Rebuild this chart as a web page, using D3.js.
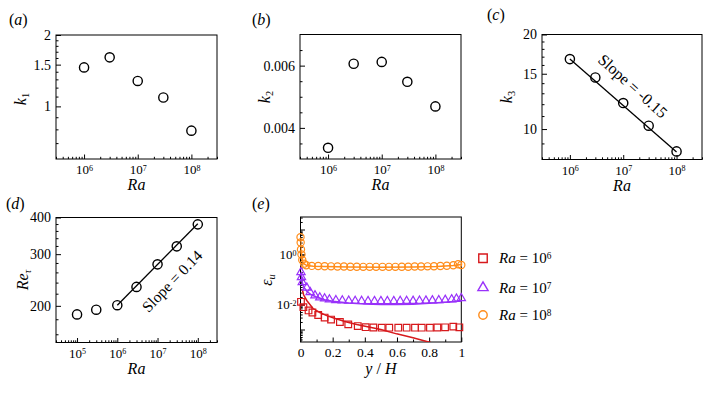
<!DOCTYPE html>
<html lang="en">
<head>
<meta charset="UTF-8">
<title>Ra scaling panels</title>
<script src="https://d3js.org/d3.v7.min.js"></script>
<style>
  body { margin: 0; background: #fff; }
  svg { display: block; }
  svg text { font-family: "Liberation Serif", "Times New Roman", "DejaVu Serif", serif; }
</style>
</head>
<body>
<svg width="713" height="393"></svg>
<script>
// ---- data ----
const raK = [1e6, 3e6, 1e7, 3e7, 1e8]
const k1 = [1.46, 1.61, 1.28, 1.09, 0.79]
const k2 = [0.00336, 0.00606, 0.00612, 0.00548, 0.00469]
const k3 = [16.7, 14.6, 12.1, 10.25, 8.49]
const k3FitRa = [1e6, 1e8]
const k3Fit = [16.7, 8.45]

const raRe = [1e5, 3e5, 1e6, 3e6, 1e7, 3e7, 1e8]
const reTau = [187, 194, 201, 232, 277, 319, 379]
const reFitRa = [1e6, 1e8]
const reFit = [201, 381]

// panel (e): y/H and eps_u
const sqYH = [0.003, 0.018, 0.05, 0.074, 0.11, 0.15, 0.19, 0.245, 0.297, 0.356, 0.405, 0.453, 0.505, 0.552, 0.608, 0.66, 0.712, 0.754, 0.805, 0.851, 0.899, 0.95, 0.988]
const sqEps = [0.0128, 0.0078, 0.0058, 0.0048, 0.0038, 0.003, 0.0025, 0.002, 0.0016, 0.00137, 0.00124, 0.0012, 0.00118, 0.00118, 0.00118, 0.00118, 0.00118, 0.00118, 0.00118, 0.0012, 0.00122, 0.0013, 0.00122]
const triYH = [0.003, 0.006, 0.011, 0.039, 0.06, 0.09, 0.12, 0.15, 0.18, 0.22, 0.26, 0.3, 0.34, 0.38, 0.42, 0.46, 0.5, 0.54, 0.58, 0.62, 0.66, 0.7, 0.74, 0.78, 0.82, 0.86, 0.9, 0.94, 0.97, 1.0]
const triEps = [0.196, 0.123, 0.078, 0.047, 0.031, 0.023, 0.019, 0.0173, 0.0158, 0.0148, 0.0143, 0.014, 0.0138, 0.0137, 0.0136, 0.0136, 0.0136, 0.0136, 0.0136, 0.0137, 0.0138, 0.0139, 0.014, 0.0142, 0.0145, 0.0148, 0.0152, 0.016, 0.0168, 0.0178]
const cirYH = [0, 0.001, 0.003, 0.006, 0.011, 0.022, 0.036, 0.07, 0.11, 0.15, 0.19, 0.23, 0.27, 0.31, 0.35, 0.39, 0.43, 0.47, 0.51, 0.55, 0.59, 0.63, 0.67, 0.71, 0.75, 0.79, 0.83, 0.87, 0.91, 0.95, 0.98, 1.0]
const cirEps = [4.9, 3.0, 1.6, 1.0, 0.6, 0.43, 0.37, 0.35, 0.345, 0.34, 0.335, 0.33, 0.33, 0.325, 0.325, 0.32, 0.32, 0.32, 0.32, 0.32, 0.32, 0.325, 0.325, 0.33, 0.33, 0.335, 0.34, 0.345, 0.355, 0.37, 0.41, 0.38]

const redLineYH = [0.011, 0.02, 0.039, 0.078, 0.12, 0.163, 0.22, 0.287, 0.35, 0.432, 0.5, 0.598, 0.7, 0.785, 0.81]
const redLineEps = [0.04, 0.024, 0.0145, 0.0069, 0.0048, 0.0036, 0.0027, 0.002, 0.0016, 0.00124, 0.001, 0.00067, 0.00047, 0.00033, 0.0003]
const purLineYH = [0.003, 0.01, 0.02, 0.04, 0.07, 0.1, 0.15, 0.2, 0.3, 0.4, 0.5, 0.6, 0.7, 0.8, 0.9, 1.0]
const purLineEps = [0.19, 0.08, 0.05, 0.033, 0.024, 0.02, 0.0155, 0.0135, 0.0115, 0.0104, 0.0099, 0.0099, 0.0103, 0.0111, 0.0122, 0.0138]
const orLineYH = [0, 0.003, 0.006, 0.011, 0.02, 0.04, 0.08, 0.15, 0.3, 0.5, 0.7, 0.85, 0.95, 1.0]
const orLineEps = [4.9, 1.6, 1.0, 0.6, 0.43, 0.36, 0.34, 0.33, 0.315, 0.31, 0.315, 0.33, 0.36, 0.4]

const seriesNames = ['6', '7', '8']   // Ra = 10^n

// tick labels
const raExpABC = [6, 7, 8]
const raExpD = [5, 6, 7, 8]
const k1Ticks = [1, 1.5, 2]
const k2Ticks = [0.004, 0.006]
const k3Ticks = [10, 15, 20]
const reTicks = [200, 300, 400]
const epsExp = [0, -2]
const yhTicks = [0, 0.2, 0.4, 0.6, 0.8, 1]

// ---- drawing ----
const svg = d3.select('svg')
const red = '#d7191c', purple = '#9932fa', orange = '#ff8c1a'

const boxes = {
  a: {x0: 56, x1: 217, y0: 35, y1: 159},
  b: {x0: 300, x1: 461, y0: 34.5, y1: 159},
  c: {x0: 542, x1: 702, y0: 34.5, y1: 159.5},
  d: {x0: 56, x1: 217, y0: 217.5, y1: 342.5},
  e: {x0: 300.5, x1: 461.3, y0: 217, y1: 342}
}

function axisGroup(orient, scale, values, len, pad, fmt, box) {
  const ax = (orient === 'bottom' ? d3.axisBottom(scale) : d3.axisLeft(scale))
    .tickValues(values).tickSizeInner(-len).tickSizeOuter(0).tickPadding(pad)
    .tickFormat(fmt || (() => ''))
  const g = svg.append('g')
    .attr('transform', orient === 'bottom' ? `translate(0,${box.y1})` : `translate(${box.x0},0)`)
    .call(ax)
  g.attr('font-size', 14)
  g.select('.domain').remove()
  g.selectAll('line').attr('stroke', '#000').attr('stroke-width', 1)
  g.selectAll('text').attr('fill', '#000')
  return g
}

function powLabels(g, fs) {
  g.selectAll('text').each(function (d) {
    const e = Math.round(Math.log10(d))
    const t = d3.select(this).text('').attr('font-size', fs)
    t.append('tspan').text('10')
    t.append('tspan').attr('dy', '-0.45em').attr('font-size', '0.62em').text(e)
  })
}

function logMinor(domain) {
  const out = []
  const lo = Math.floor(Math.log10(domain[0])), hi = Math.ceil(Math.log10(domain[1]))
  for (let p = lo; p <= hi; p++) {
    for (let m = 2; m <= 9; m++) {
      const v = m * Math.pow(10, p)
      if (v >= domain[0] && v <= domain[1]) out.push(v)
    }
  }
  return out
}

function frame(box) {
  svg.append('rect').attr('x', box.x0).attr('y', box.y0)
    .attr('width', box.x1 - box.x0).attr('height', box.y1 - box.y0)
    .attr('fill', 'none').attr('stroke', '#000').attr('stroke-width', 1)
}

function raAxis(box, x, exps, dom) {
  axisGroup('bottom', x, logMinor(dom), 2.2, 0, null, box)
  const g = axisGroup('bottom', x, exps.map(e => Math.pow(10, e)), 4.5, 6, d => d, box)
  powLabels(g, 13)
  svg.append('text').attr('x', (box.x0 + box.x1) / 2).attr('y', box.y1 + 31)
    .attr('text-anchor', 'middle').attr('font-style', 'italic')
    .attr('font-size', 16).text('Ra')
}

function yTitle(x, y, main, sub, subItalic) {
  const t = svg.append('text').attr('transform', `translate(${x},${y}) rotate(-90)`)
    .attr('text-anchor', 'middle').attr('font-size', 16)
  t.append('tspan').attr('font-style', 'italic').text(main)
  t.append('tspan').attr('dy', '0.3em').attr('font-size', '0.65em')
    .attr('font-style', subItalic ? 'italic' : 'normal').text(sub)
}

function panelLabel(x, y, letter) {
  const t = svg.append('text').attr('x', x).attr('y', y).attr('font-size', 16)
  t.append('tspan').text('(')
  t.append('tspan').attr('font-style', 'italic').text(letter)
  t.append('tspan').text(')')
}

function openCircles(x, y, xs, ys) {
  svg.append('g').selectAll('circle').data(xs).join('circle')
    .attr('cx', d => x(d)).attr('cy', (d, i) => y(ys[i])).attr('r', 4.6)
    .attr('fill', 'none').attr('stroke', '#000').attr('stroke-width', 1.4)
}

function fitLine(x, y, xs, ys) {
  svg.append('path').datum(xs)
    .attr('d', d3.line().x(d => x(d)).y((d, i) => y(ys[i])))
    .attr('fill', 'none').attr('stroke', '#000').attr('stroke-width', 1.3)
}

const raDomABC = [3e5, 3e8]

// (a)
{
  const b = boxes.a
  const x = d3.scaleLog().domain(raDomABC).range([b.x0, b.x1])
  const y = d3.scaleLog().domain([0.6, 2]).range([b.y1, b.y0])
  frame(b)
  raAxis(b, x, raExpABC, raDomABC)
  axisGroup('left', y, d3.range(0.7, 2, 0.1).filter(v => Math.abs(v - 1) > 1e-6 && Math.abs(v - 1.5) > 1e-6), 2.5, 0, null, b)
  axisGroup('left', y, k1Ticks, 5, 5, d => d, b)
  openCircles(x, y, raK, k1)
  yTitle(26, 99, 'k', '1')
  panelLabel(9, 25, 'a')
}

// (b)
{
  const b = boxes.b
  const x = d3.scaleLog().domain(raDomABC).range([b.x0, b.x1])
  const y = d3.scaleLinear().domain([0.003, 0.007]).range([b.y1, b.y0])
  frame(b)
  raAxis(b, x, raExpABC, raDomABC)
  axisGroup('left', y, [0.0035, 0.0045, 0.005, 0.0055, 0.0065], 2.5, 0, null, b)
  axisGroup('left', y, k2Ticks, 5, 5, d3.format('.3f'), b)
  openCircles(x, y, raK, k2)
  yTitle(270, 97, 'k', '2')
  panelLabel(252, 25, 'b')
}

// (c)
{
  const b = boxes.c
  const x = d3.scaleLog().domain(raDomABC).range([b.x0, b.x1])
  const y = d3.scaleLog().domain([8, 20]).range([b.y1, b.y0])
  frame(b)
  raAxis(b, x, raExpABC, raDomABC)
  axisGroup('left', y, d3.range(9, 20).filter(v => v !== 10 && v !== 15), 2.5, 0, null, b)
  axisGroup('left', y, k3Ticks, 5, 5, d => d, b)
  fitLine(x, y, k3FitRa, k3Fit)
  openCircles(x, y, raK, k3)
  yTitle(512, 97, 'k', '3')
  panelLabel(487, 20, 'c')
  svg.append('text').attr('transform', 'translate(633,86) rotate(42)')
    .attr('text-anchor', 'middle').attr('dy', '0.35em')
    .attr('font-size', 16).text('Slope = -0.15')
}

// (d)
{
  const b = boxes.d
  const dom = [3e4, 3e8]
  const x = d3.scaleLog().domain(dom).range([b.x0, b.x1])
  const y = d3.scaleLog().domain([150, 400]).range([b.y1, b.y0])
  frame(b)
  raAxis(b, x, raExpD, dom)
  axisGroup('left', y, d3.range(160, 400, 20).filter(v => v !== 200 && v !== 300), 2.5, 0, null, b)
  axisGroup('left', y, reTicks, 5, 5, d => d, b)
  fitLine(x, y, reFitRa, reFit)
  openCircles(x, y, raRe, reTau)
  yTitle(28, 280, 'Re', 'τ', true)
  panelLabel(6, 209, 'd')
  svg.append('text').attr('transform', 'translate(172,281) rotate(-46)')
    .attr('text-anchor', 'middle').attr('dy', '0.35em')
    .attr('font-size', 15.5).text('Slope = 0.14')
}

// (e)
{
  const b = boxes.e
  const x = d3.scaleLinear().domain([0, 1]).range([b.x0, b.x1])
  const y = d3.scaleLog().domain([Math.pow(10, -3.5), Math.pow(10, 1.5)]).range([b.y1, b.y0])
  svg.append('clipPath').attr('id', 'clipE').append('rect')
    .attr('x', b.x0).attr('y', b.y0).attr('width', b.x1 - b.x0).attr('height', b.y1 - b.y0)
  frame(b)
  axisGroup('bottom', x, d3.range(0.1, 1, 0.2), 2.5, 0, null, b)
  axisGroup('bottom', x, yhTicks, 4.5, 5, d => d, b)
    .selectAll('text').attr('font-size', 13.5)
  axisGroup('left', y, logMinor([Math.pow(10, -3.5), Math.pow(10, 1.5)]), 2.2, 0, null, b)
  axisGroup('left', y, [1e1, 1, 1e-1, 1e-2, 1e-3], 4.5, 0, null, b)
  const gl = axisGroup('left', y, epsExp.map(e => Math.pow(10, e)), 4.5, 4, d => d, b)
  powLabels(gl, 13)

  const plot = svg.append('g').attr('clip-path', 'url(#clipE)')
  const line = (xs, ys) => d3.line().x(d => x(d)).y((d, i) => y(ys[i]))(xs)
  plot.append('path').attr('d', line(redLineYH, redLineEps)).attr('fill', 'none').attr('stroke', red).attr('stroke-width', 1.5)
  plot.append('path').attr('d', line(purLineYH, purLineEps)).attr('fill', 'none').attr('stroke', purple).attr('stroke-width', 1.5)
  plot.append('path').attr('d', line(orLineYH, orLineEps)).attr('fill', 'none').attr('stroke', orange).attr('stroke-width', 1.5)

  const sq = d3.symbol(d3.symbolSquare).size(44)()
  const tri = d3.symbol(d3.symbolTriangle).size(30)()
  const groupMarks = (xs, ys, path, col) => svg.append('g').selectAll('path').data(xs).join('path')
    .attr('d', path).attr('transform', (d, i) => `translate(${x(d)},${y(ys[i])})`)
    .attr('fill', 'none').attr('stroke', col).attr('stroke-width', 1.2)
  groupMarks(sqYH, sqEps, sq, red)
  groupMarks(triYH, triEps, tri, purple)
  svg.append('g').selectAll('circle').data(cirYH).join('circle')
    .attr('cx', d => x(d)).attr('cy', (d, i) => y(cirEps[i])).attr('r', 3.6)
    .attr('fill', 'none').attr('stroke', orange).attr('stroke-width', 1.2)

  yTitle(272, 280, 'ε', 'u', true)
  const xt = svg.append('text').attr('x', (b.x0 + b.x1) / 2).attr('y', b.y1 + 32)
    .attr('text-anchor', 'middle').attr('font-size', 16)
  xt.append('tspan').attr('font-style', 'italic').text('y')
  xt.append('tspan').text(' / ')
  xt.append('tspan').attr('font-style', 'italic').text('H')
  panelLabel(252, 209, 'e')

  // legend
  const legY = [258.3, 287.7, 315]
  const legCols = [red, purple, orange]
  const legShapes = [d3.symbol(d3.symbolSquare).size(72)(), d3.symbol(d3.symbolTriangle).size(45)(), null]
  seriesNames.forEach((n, i) => {
    if (legShapes[i]) {
      svg.append('path').attr('d', legShapes[i]).attr('transform', `translate(483,${legY[i]})`)
        .attr('fill', 'none').attr('stroke', legCols[i]).attr('stroke-width', 1.4)
    } else {
      svg.append('circle').attr('cx', 483).attr('cy', legY[i]).attr('r', 4.2)
        .attr('fill', 'none').attr('stroke', legCols[i]).attr('stroke-width', 1.4)
    }
    const t = svg.append('text').attr('x', 499).attr('y', legY[i] + 5).attr('font-size', 15)
    t.append('tspan').attr('font-style', 'italic').text('Ra')
    t.append('tspan').text(' = 10')
    t.append('tspan').attr('dy', '-0.45em').attr('font-size', '0.62em').text(n)
  })
}
</script>
</body>
</html>
